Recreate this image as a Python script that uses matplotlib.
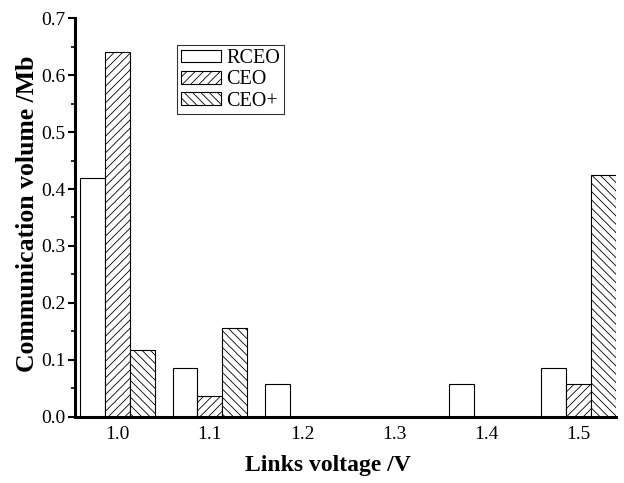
import numpy as np
import matplotlib
matplotlib.use("Agg")
import matplotlib.pyplot as plt
from matplotlib.ticker import MultipleLocator

plt.rcParams['font.family'] = ['Liberation Serif', 'DejaVu Serif']
plt.rcParams['hatch.linewidth'] = 0.6

voltages = [1.0, 1.1, 1.2, 1.3, 1.4, 1.5]
series = ["RCEO", "CEO", "CEO+"]
rceo = [0.420, 0.085, 0.058, 0.0, 0.058, 0.085]
ceo = [0.640, 0.036, 0.0, 0.0, 0.0, 0.058]
ceo_plus = [0.117, 0.156, 0.0, 0.0, 0.0, 0.425]
hatches = ["", "////", "\\\\\\\\"]

fig = plt.figure(figsize=(6.24, 4.83), dpi=100)
ax = fig.add_axes([0.120, 0.1375, 0.867, 0.8245])

w = 0.027
x = np.array(voltages)
for i, (vals, name, h) in enumerate(zip([rceo, ceo, ceo_plus], series, hatches)):
    v = np.array(vals)
    m = v > 0
    ax.bar(x[m] + (i - 1) * w, v[m], width=w, color="white", edgecolor="black",
           linewidth=0.8, hatch=h, label=name)

ax.set_xlim(0.9535, 1.5405)
ax.set_ylim(0, 0.7)
ax.set_xticks(voltages)
ax.set_xticklabels(["%.1f" % v for v in voltages])
ax.yaxis.set_major_locator(MultipleLocator(0.1))
ax.yaxis.set_minor_locator(MultipleLocator(0.05))
ax.yaxis.set_major_formatter(plt.FuncFormatter(lambda v, p: "%.1f" % v))

for s in ["top", "right"]:
    ax.spines[s].set_visible(False)
for s in ["left", "bottom"]:
    ax.spines[s].set_linewidth(2.2)

ax.tick_params(axis="x", length=0, labelsize=14, pad=7)
ax.tick_params(axis="y", which="major", length=5, width=1.5, labelsize=14, pad=2)
ax.tick_params(axis="y", which="minor", length=3, width=1.2)

ax.set_xlabel("Links voltage /V", fontsize=17, fontweight="bold")
ax.set_ylabel("Communication volume /Mb", fontsize=18.5, fontweight="bold")
ax.xaxis.set_label_coords(0.467, -0.0965)
ax.yaxis.set_label_coords(-0.066, 0.51)

leg = ax.legend(loc="upper left", bbox_to_anchor=(0.284, 0.906),
                bbox_transform=fig.transFigure, borderaxespad=0,
                fontsize=14.5, frameon=True, fancybox=False, handlelength=2.0,
                handleheight=0.6, labelspacing=0.12, handletextpad=0.25,
                borderpad=0.18)
leg.get_frame().set_edgecolor("black")
leg.get_frame().set_linewidth(0.8)

fig.savefig("out.png", dpi=100)
